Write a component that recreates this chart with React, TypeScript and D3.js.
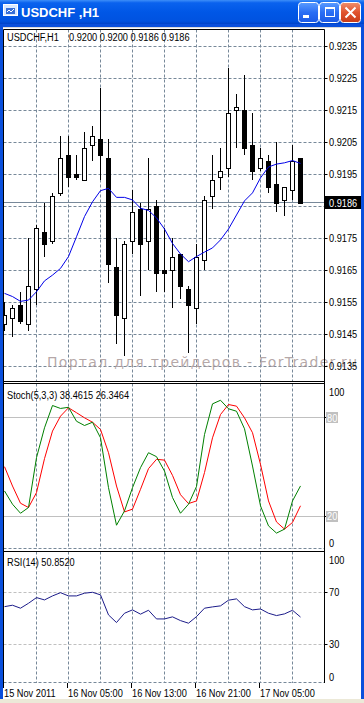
import React, { useEffect } from 'react';
import { scaleLinear, line } from 'd3';

const W = 364;
const H = 703;

// USDCHF H1, 38 bars from 15 Nov 21:00
const opens = [
  0.9148, 0.9150, 0.9154, 0.9148, 0.9159, 0.9177, 0.9174, 0.9189, 0.9201, 0.9195,
  0.9193, 0.9204, 0.9206, 0.9200, 0.9166, 0.9150, 0.9174, 0.9184, 0.9174, 0.9185,
  0.9165, 0.9165, 0.9170, 0.9159, 0.9153, 0.9168, 0.9188, 0.9194, 0.9197, 0.9215,
  0.9215, 0.9204, 0.9197, 0.9199, 0.9192, 0.9187, 0.9190, 0.9200,
];
const highs = [
  0.9155, 0.9154, 0.9158, 0.9175, 0.9179, 0.9186, 0.9189, 0.9207, 0.9207, 0.9201,
  0.9208, 0.9210, 0.9222, 0.9206, 0.9175, 0.9174, 0.9190, 0.9186, 0.9200, 0.9187,
  0.9178, 0.9175, 0.9170, 0.9160, 0.9173, 0.9188, 0.9201, 0.9203, 0.9228, 0.9220,
  0.9226, 0.9214, 0.9203, 0.9201, 0.9205, 0.9191, 0.9204, 0.9200,
];
const lows = [
  0.9146, 0.9144, 0.9148, 0.9146, 0.9154, 0.9169, 0.9173, 0.9188, 0.9191, 0.9193,
  0.9193, 0.9199, 0.9193, 0.9161, 0.9142, 0.9138, 0.9170, 0.9157, 0.9165, 0.9158,
  0.9158, 0.9153, 0.9156, 0.9139, 0.9148, 0.9165, 0.9184, 0.9190, 0.9194, 0.9203,
  0.9201, 0.9193, 0.9196, 0.9189, 0.9183, 0.9182, 0.9187, 0.9186,
];
const closes = [
  0.9151, 0.9153, 0.9149, 0.9160, 0.9178, 0.9173, 0.9188, 0.9200, 0.9194, 0.9194,
  0.9203, 0.9207, 0.9201, 0.9167, 0.9151, 0.9173, 0.9183, 0.9173, 0.9184, 0.9164,
  0.9164, 0.9169, 0.9160, 0.9154, 0.9169, 0.9187, 0.9193, 0.9196, 0.9214, 0.9216,
  0.9203, 0.9196, 0.9200, 0.9191, 0.9186, 0.9191, 0.9199, 0.9186,
];
const maValues = [
  0.91577, 0.91567, 0.91552, 0.91556, 0.91582, 0.91616, 0.91634, 0.91655, 0.91692, 0.91754,
  0.91817, 0.91863, 0.91898, 0.91905, 0.91877, 0.91877, 0.91869, 0.91843, 0.91836, 0.91813,
  0.91778, 0.91733, 0.91700, 0.91676, 0.91692, 0.91706, 0.91719, 0.91744, 0.91778, 0.91822,
  0.91866, 0.91891, 0.91938, 0.91972, 0.91981, 0.91985, 0.91992, 0.91983,
];
const stochMain = [
  35.4, 27.3, 21.8, 25.3, 55.7, 73.9, 87.5, 85.7, 86.4, 77.9,
  75.3, 77.3, 67.8, 37.4, 14.5, 23.2, 37.4, 49.6, 58.7, 56.3,
  47.5, 31.4, 21.8, 27.3, 38.1, 69.8, 88.5, 90.7, 85.5, 84.0,
  73.3, 50.6, 26.3, 14.1, 9.7, 12.1, 29.3, 38.4615,
];
const stochSignal = [
  50.2, 38.4, 27.9, 25.3, 34.4, 55.1, 71.9, 81.0, 86.1, 83.1,
  80.0, 77.3, 72.9, 58.7, 38.4, 22.6, 24.3, 36.4, 49.0, 54.7,
  54.2, 44.9, 33.1, 27.7, 29.3, 46.6, 67.8, 82.0, 88.1, 87.1,
  80.0, 70.9, 51.6, 29.3, 16.5, 12.1, 16.2, 26.3464,
];
const rsiValues = [
  58.9, 60.0, 57.7, 61.5, 65.9, 64.1, 67.2, 69.7, 67.2, 67.2,
  69.3, 70.0, 68.0, 52.5, 46.6, 53.8, 56.4, 53.1, 56.1, 49.4,
  49.4, 51.0, 48.1, 46.1, 51.2, 57.7, 58.7, 59.5, 63.9, 64.9,
  58.9, 56.4, 57.1, 53.8, 52.0, 53.3, 56.1, 50.852,
];

const priceTicks = [0.9235, 0.9225, 0.9215, 0.9205, 0.9195, 0.9185, 0.9175, 0.9165, 0.9155, 0.9145, 0.9135];
const gridBars = [4, 8, 12, 16, 20, 24, 28, 32, 36];
const timeTickBars = [0, 8, 16, 24, 32];
const timeTickLabels = ['15 Nov 2011', '16 Nov 05:00', '16 Nov 13:00', '16 Nov 21:00', '17 Nov 05:00'];
const stochLevels = [80, 20];
const rsiLevels = [70, 30];
const lastPrice = 0.9186;

const FONT = "'Liberation Sans',Arial,sans-serif";
const GRID = '#778899';

// panel frame
const L = 3.5;
const R = 324.5;
const mainTop = 29.5, mainBottom = 381.5;
const stochTop = 383.5, stochBottom = 549;
const rsiTop = 551.5, rsiBottom = 683;

const snap = (v: number) => Math.round(v - 0.5) + 0.5;

// terminal font is narrower than Liberation Sans, so squeeze it horizontally
const T = ({ x, y, fill = '#000', children }: { x: number; y: number; fill?: string; children: React.ReactNode }) => (
  <text transform={`translate(${x},${y}) scale(0.84,1)`} fill={fill}>{children}</text>
);

export default function App() {
  useEffect(() => {
    document.body.style.margin = '0';
  }, []);

  const x = scaleLinear().domain([0, closes.length - 1]).range([4.5, 4.5 + 8 * (closes.length - 1)]);
  const yP = scaleLinear().domain([0.9135, 0.9235]).range([366, 46]);
  const yS = scaleLinear().domain([0, 100]).range([549, 385]);
  const yR = scaleLinear().domain([0, 100]).range([682.8, 553.5]);

  const maLine = line<number>().x((_, i) => x(i)).y(d => yP(d));
  const stochLine = line<number>().x((_, i) => x(i)).y(d => yS(d));
  const rsiLine = line<number>().x((_, i) => x(i)).y(d => yR(d));

  const vGrid = (top: number, bottom: number) =>
    gridBars.map(b => (
      <line key={`g${top}-${b}`} x1={x(b)} x2={x(b)} y1={top} y2={bottom} stroke={GRID} strokeDasharray="3,2" />
    ));

  return (
    <div style={{ position: 'absolute', left: 0, top: 0 }}>
      <svg width={W} height={H} style={{ display: 'block', background: '#fff' }} fontFamily={FONT} fontSize={11}>
        <defs>
          <linearGradient id="title" x1="0" y1="0" x2="0" y2="1">
            <stop offset="0" stopColor="#3d8ef8" />
            <stop offset="0.12" stopColor="#0a62ee" />
            <stop offset="0.5" stopColor="#0057e6" />
            <stop offset="0.88" stopColor="#0052e0" />
            <stop offset="1" stopColor="#0042c8" />
          </linearGradient>
          <linearGradient id="btn" x1="0" y1="0" x2="0" y2="1">
            <stop offset="0" stopColor="#5a9cff" />
            <stop offset="0.5" stopColor="#2a6ef4" />
            <stop offset="1" stopColor="#1c5ae6" />
          </linearGradient>
          <linearGradient id="btnClose" x1="0" y1="0" x2="0" y2="1">
            <stop offset="0" stopColor="#f0906c" />
            <stop offset="0.5" stopColor="#e0532e" />
            <stop offset="1" stopColor="#c83c18" />
          </linearGradient>
          <clipPath id="clipMain"><rect x={L} y={mainTop} width={R - L} height={mainBottom - mainTop} /></clipPath>
        </defs>

        {/* window frame */}
        <rect x={0} y={0} width={W} height={H} fill="#0a4fdc" />
        <rect x={0} y={0} width={W} height={24} fill="url(#title)" />
        <rect x={3} y={27} width={W - 6} height={H - 27} fill="#fff" />
        <rect x={3} y={27} width={W - 6} height={1} fill="#d8d8d8" />
        <rect x={0} y={699} width={W} height={4} fill="#ece9d8" />

        {/* title bar */}
        <g>
          <rect x={3.5} y={4.5} width={14} height={11} fill="#d8e8ff" stroke="#ffffff" />
          <rect x={6} y={8} width={9} height={6} fill="#3870d8" />
          <path d="M7 12 L9 10 L11 12 L14 9" stroke="#ffffff" fill="none" />
          <text x={21} y={17} fill="#fff" fontFamily="'Liberation Sans',Arial,sans-serif" fontWeight="bold" fontSize={13}>USDCHF ,H1</text>
          <rect x={298.5} y={2.5} width={20} height={20} rx={3} fill="url(#btn)" stroke="#fff" />
          <rect x={303} y={15} width={6} height={3} fill="#fff" />
          <rect x={319.5} y={2.5} width={20} height={20} rx={3} fill="url(#btn)" stroke="#fff" />
          <rect x={325.5} y={7.5} width={9} height={9} fill="none" stroke="#fff" />
          <rect x={325} y={7} width={10} height={2} fill="#fff" />
          <rect x={340.5} y={2.5} width={20} height={20} rx={3} fill="url(#btnClose)" stroke="#fff" />
          <path d="M345.5 7.5 L355.5 17.5 M355.5 7.5 L345.5 17.5" stroke="#fff" strokeWidth={2} />
        </g>

        {/* main panel grid */}
        {priceTicks.map(p => (
          <line key={`h${p}`} x1={L} x2={R} y1={snap(yP(p))} y2={snap(yP(p))} stroke={GRID} strokeDasharray="3,2" />
        ))}
        {vGrid(mainTop, mainBottom)}
        <line x1={L} x2={R} y1={snap(yP(lastPrice))} y2={snap(yP(lastPrice))} stroke={GRID} />

        {/* candles */}
        <g clipPath="url(#clipMain)">
          {closes.map((c, i) => {
            const o = opens[i];
            const cx = x(i);
            const top = Math.round(yP(Math.max(o, c)));
            const bot = Math.round(yP(Math.min(o, c)));
            return (
              <g key={`c${i}`}>
                <line x1={cx} x2={cx} y1={Math.round(yP(highs[i]))} y2={Math.round(yP(lows[i]))} stroke="#000" />
                {c >= o ? (
                  <rect x={cx - 2} y={top + 0.5} width={4} height={Math.max(bot - top, 1)} fill="#fff" stroke="#000" />
                ) : (
                  <rect x={cx - 2.5} y={top} width={5} height={Math.max(bot - top + 1, 1)} fill="#000" />
                )}
              </g>
            );
          })}
          <path d={maLine(maValues) || ''} fill="none" stroke="#0000e8" strokeWidth={1} />
        </g>

        <T x={7} y={41}>USDCHF,H1</T>
        <T x={69} y={41}>0.9200 0.9200 0.9186 0.9186</T>

        {/* watermark */}
        <text x={47} y={367} fill="#a89898" fillOpacity={0.85} fontFamily="'DejaVu Sans',sans-serif" fontSize={14}
          textLength={310} lengthAdjust="spacing">
          Портал для трейдеров - ForTrader.ru
        </text>

        {/* price axis */}
        {priceTicks.filter(p => p !== 0.9185).map(p => (
          <g key={`pl${p}`}>
            <line x1={R} x2={R + 3} y1={snap(yP(p))} y2={snap(yP(p))} stroke="#000" />
            <T x={329} y={yP(p) + 4}>{p.toFixed(4)}</T>
          </g>
        ))}
        <rect x={325} y={snap(yP(lastPrice)) - 6.5} width={36} height={13} fill="#000" />
        <T x={329} y={yP(lastPrice) + 4.5} fill="#fff">{lastPrice.toFixed(4)}</T>

        {/* stochastic panel */}
        {vGrid(stochTop, stochBottom)}
        <line x1={L} x2={R} y1={548.5} y2={548.5} stroke={GRID} strokeDasharray="3,2" />
        {stochLevels.map(v => (
          <line key={`sl${v}`} x1={L} x2={R} y1={snap(yS(v))} y2={snap(yS(v))} stroke="#c0c0c0" />
        ))}
        <path d={stochLine(stochSignal) || ''} fill="none" stroke="#ff0000" />
        <path d={stochLine(stochMain) || ''} fill="none" stroke="#008000" />
        <T x={7} y={399}>Stoch(5,3,3) 38.4615 26.3464</T>
        <T x={329} y={395.5}>100</T>
        <T x={329} y={546.5}>0</T>
        {stochLevels.map(v => (
          <g key={`slab${v}`}>
            <line x1={R} x2={R + 3} y1={snap(yS(v))} y2={snap(yS(v))} stroke="#000" />
            <rect x={326} y={snap(yS(v)) - 5.5} width={12} height={11} fill="#c0c0c0" />
            <T x={327} y={yS(v) + 4} fill="#fff">{v}</T>
          </g>
        ))}

        {/* RSI panel */}
        {vGrid(rsiTop, rsiBottom)}
        {rsiLevels.map(v => (
          <line key={`rl${v}`} x1={L} x2={R} y1={snap(yR(v))} y2={snap(yR(v))} stroke="#c0c0c0" strokeDasharray="3,2" />
        ))}
        <line x1={L} x2={R} y1={682.5} y2={682.5} stroke={GRID} strokeDasharray="3,2" />
        <path d={rsiLine(rsiValues) || ''} fill="none" stroke="#1c1c8a" />
        <T x={7} y={565.5}>RSI(14) 50.8520</T>
        <T x={329} y={563.5}>100</T>
        {rsiLevels.map(v => (
          <g key={`rlab${v}`}>
            <line x1={R} x2={R + 3} y1={snap(yR(v))} y2={snap(yR(v))} stroke="#000" />
            <T x={329} y={yR(v) + 4}>{v}</T>
          </g>
        ))}
        <T x={329} y={681}>0</T>

        {/* panel borders */}
        <line x1={L} x2={R} y1={mainTop} y2={mainTop} stroke="#000" />
        <line x1={L} x2={R} y1={mainBottom} y2={mainBottom} stroke="#000" />
        <line x1={L} x2={R} y1={stochTop} y2={stochTop} stroke="#000" />
        <line x1={L} x2={R} y1={rsiTop} y2={rsiTop} stroke="#000" />
        <line x1={L} x2={L} y1={mainTop} y2={683} stroke="#000" />
        <line x1={R} x2={R} y1={mainTop} y2={683} stroke="#000" />

        {/* time axis */}
        {timeTickBars.map((b, k) => {
          const tx = k === 0 ? L : x(b) - 1;
          return (
            <g key={`t${b}`}>
              <line x1={tx} x2={tx} y1={683} y2={688} stroke="#000" />
              <T x={tx + 0.5} y={697}>{timeTickLabels[k]}</T>
            </g>
          );
        })}
      </svg>
    </div>
  );
}
